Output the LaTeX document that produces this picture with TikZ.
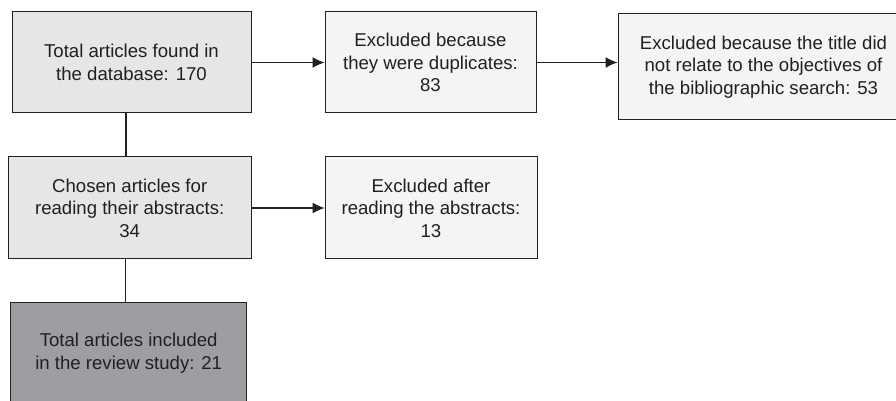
\documentclass[tikz,border=0pt]{standalone}
\usepackage{fontspec}
\setmainfont{Liberation Sans}
\usetikzlibrary{arrows.meta}
\definecolor{inkdark}{HTML}{231F20}
\definecolor{boxmid}{HTML}{E6E6E7}
\definecolor{boxlight}{HTML}{F4F4F4}
\definecolor{boxdark}{HTML}{9D9EA2}
\tikzset{
  stage/.style={draw=inkdark, line width=0.5pt, align=center, text=inkdark,
    inner sep=2pt, font=\fontsize{9.3}{11.3}\selectfont},
  midbox/.style={stage, fill=boxmid},
  lightbox/.style={stage, fill=boxlight},
  darkbox/.style={stage, fill=boxdark},
  link/.style={draw=inkdark, line width=0.6pt},
  arr/.style={link, -{Latex[length=6pt,width=5.5pt]}}
}
\begin{document}
\begin{tikzpicture}[x=0.5pt, y=-0.5pt]
    \useasboundingbox (0,0) rectangle (896,401);
    \node[midbox, minimum width=119.5pt, minimum height=50.5pt] (found) at (131.5,62.5)
      {Total articles found in\\the database: 170};
    \node[lightbox, minimum width=105.5pt, minimum height=50.5pt] (dup) at (430.5,62.5)
      {Excluded because\\they were duplicates:\\83};
    \node[lightbox, minimum width=145.5pt, minimum height=53pt] (title) at (763.5,67)
      {Excluded because the title did\\not relate to the objectives of\\the bibliographic search: 53};
    \node[midbox, minimum width=121.3pt, minimum height=51pt] (chosen) at (129.7,208)
      {Chosen articles for\\reading their abstracts:\\34};
    \node[lightbox, minimum width=106pt, minimum height=51pt] (abstr) at (431,208)
      {Excluded after\\reading the abstracts:\\13};
    \node[darkbox, minimum width=118pt, minimum height=50pt] (final) at (128.7,353)
      {Total articles included\\in the review study: 21};
    \draw[arr] (found.east) -- (dup.west);
    \draw[arr] (dup.east) -- (dup.east -| title.west);
    \draw[arr] (chosen.east) -- (abstr.west);
    \draw[link] ([xshift=-2.75pt]found.south) -- ([xshift=-2.75pt]found.south |- chosen.north);
    \draw[link] ([xshift=-2pt]chosen.south) -- ([xshift=-2pt]chosen.south |- final.north);
\end{tikzpicture}
\end{document}
